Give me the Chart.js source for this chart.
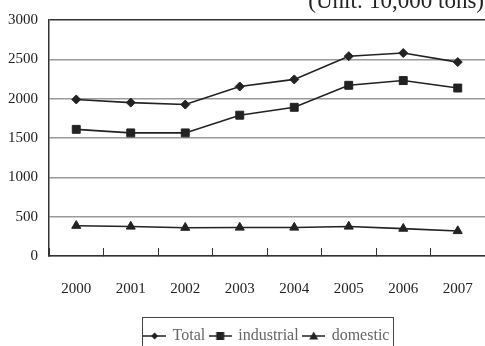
<!DOCTYPE html>
<html>
<head>
<meta charset="utf-8">
<script src="https://cdn.jsdelivr.net/npm/chart.js@4/dist/chart.umd.min.js"></script>
<style>
  html, body { margin: 0; padding: 0; background: #ffffff; }
  canvas { display: block; }
</style>
</head>
<body>
<canvas id="chart" width="485" height="346"></canvas>
<script>
// Annual volumes, unit: 10,000 tons
const years = ['2000', '2001', '2002', '2003', '2004', '2005', '2006', '2007'];
const totalValues = [1990, 1950, 1925, 2155, 2245, 2540, 2580, 2465];
const industrialValues = [1610, 1565, 1565, 1790, 1890, 2170, 2230, 2135];
const domesticValues = [385, 375, 360, 362, 362, 375, 348, 318];
const yTicks = [0, 500, 1000, 1500, 2000, 2500, 3000];
const unitLabel = '(Unit: 10,000 tons)';

const INK = '#222222';
const SERIF = "'Liberation Serif', 'Times New Roman', serif";

// Small "line + marker" icons for the legend entries
function legendIcon(style) {
  const c = document.createElement('canvas');
  c.width = 23; c.height = 12;
  const g = c.getContext('2d');
  g.strokeStyle = INK; g.fillStyle = INK; g.lineWidth = 1.5;
  g.beginPath(); g.moveTo(0, 6); g.lineTo(23, 6); g.stroke();
  g.beginPath();
  if (style === 'diamond') {
    g.moveTo(11.5, 2.5); g.lineTo(15, 6); g.lineTo(11.5, 9.5); g.lineTo(8, 6);
  } else if (style === 'square') {
    g.rect(7.5, 2, 8, 8);
  } else {
    g.moveTo(11.5, 1.5); g.lineTo(16, 9.5); g.lineTo(7, 9.5);
  }
  g.closePath(); g.fill();
  return c;
}
const icons = [legendIcon('diamond'), legendIcon('square'), legendIcon('triangle')];

// Unit caption in the top-right corner and the frame around the legend
const decorations = {
  id: 'decorations',
  afterDraw(chart) {
    const ctx = chart.ctx;
    ctx.save();
    ctx.font = '23px ' + SERIF;
    ctx.fillStyle = INK;
    ctx.textAlign = 'right';
    ctx.textBaseline = 'alphabetic';
    ctx.fillText(unitLabel, 484, 8);

    const boxes = chart.legend.legendHitBoxes;
    if (boxes && boxes.length) {
      const first = boxes[0];
      const last = boxes[boxes.length - 1];
      const left = first.left - 3;
      const right = last.left + last.width + 3;
      ctx.strokeStyle = '#444444';
      ctx.lineWidth = 1;
      ctx.strokeRect(Math.round(left) + 0.5, 317.5, Math.round(right - left), 60);
    }
    ctx.restore();
  }
};

const lineStyle = {
  borderColor: INK,
  backgroundColor: INK,
  pointBackgroundColor: INK,
  pointBorderColor: INK,
  borderWidth: 1.6,
  pointBorderWidth: 1,
  tension: 0,
  fill: false
};

new Chart(document.getElementById('chart'), {
  type: 'line',
  data: {
    labels: years,
    datasets: [
      Object.assign({ label: 'Total', data: totalValues, pointStyle: 'rectRot', pointRadius: 4.5 }, lineStyle),
      Object.assign({ label: 'industrial', data: industrialValues, pointStyle: 'rect', pointRadius: 5.6 }, lineStyle),
      Object.assign({ label: 'domestic', data: domesticValues, pointStyle: 'triangle', pointRadius: 5.2 }, lineStyle)
    ]
  },
  options: {
    responsive: false,
    animation: false,
    layout: { autoPadding: false, padding: { top: 20, right: -2, left: 0, bottom: 0 } },
    plugins: {
      tooltip: { enabled: false },
      title: { display: false },
      legend: {
        position: 'bottom',
        fullSize: false,
        maxHeight: 29,
        // empty title only nudges the entries down inside the legend box
        title: { display: true, text: '', padding: 0, font: { size: 5 } },
        labels: {
          usePointStyle: true,
          pointStyleWidth: 20,
          padding: 5,
          color: INK,
          font: { family: SERIF, size: 16 },
          generateLabels: (chart) => chart.data.datasets.map((ds, i) => ({
            text: ds.label,
            pointStyle: icons[i],
            fillStyle: INK,
            strokeStyle: INK,
            lineWidth: 0,
            hidden: false,
            datasetIndex: i
          }))
        }
      }
    },
    scales: {
      x: {
        offset: true,
        grid: {
          offset: true,
          drawOnChartArea: false,
          drawTicks: true,
          tickLength: -8,
          color: '#333333',
          lineWidth: 1
        },
        border: { display: true, color: '#333333', width: 1.5 },
        ticks: {
          color: INK,
          padding: 32,
          maxRotation: 0,
          font: { family: SERIF, size: 15 }
        },
        afterFit(scale) {
          scale.height = 61;
          scale.paddingLeft = 0;
          scale.paddingRight = -2;
        }
      },
      y: {
        min: 0,
        max: 3000,
        afterBuildTicks(scale) { scale.ticks = yTicks.map(v => ({ value: v })); },
        grid: {
          drawTicks: false,
          color: (c) => (c.tick && c.tick.value === 3000 ? '#333333' : '#9a9a9a'),
          lineWidth: 1.5
        },
        border: { display: true, color: '#333333', width: 1.5 },
        ticks: {
          color: INK,
          padding: 11,
          font: { family: SERIF, size: 15 },
          callback: (v) => String(v)
        },
        afterFit(scale) {
          scale.width = 49;
          scale.paddingRight = -2;
        }
      }
    }
  },
  plugins: [decorations]
});
</script>
</body>
</html>
